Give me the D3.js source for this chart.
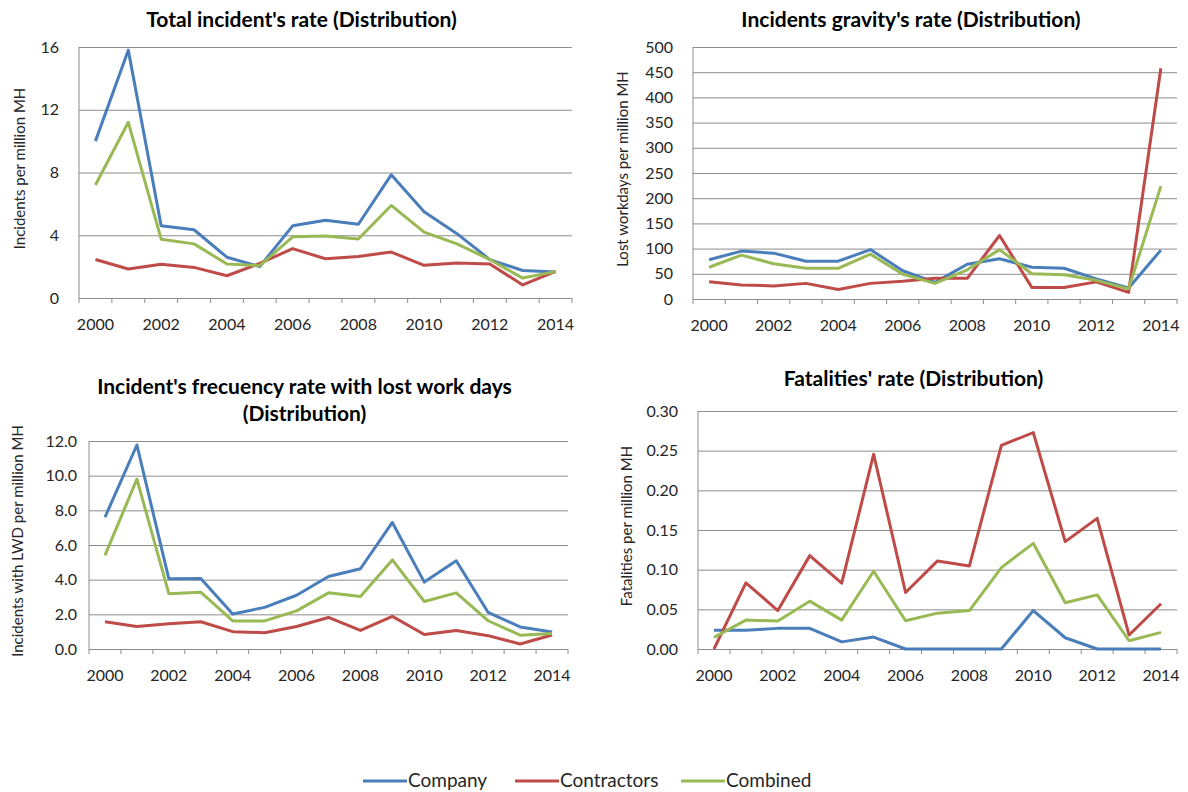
<!DOCTYPE html>
<html>
<head>
<meta charset="utf-8">
<script src="https://cdn.jsdelivr.net/npm/d3@7"></script>
<style>
  body { margin: 0; background: #fff; }
  text { font-family: Lato, "Open Sans", sans-serif; fill: #262626; }
  .grid line { stroke: #8c8c8c; stroke-width: 1; }
  .grid path { display: none; }
  .title { font-weight: bold; font-size: 21px; fill: #000; }
</style>
</head>
<body>
<svg id="chart" width="1188" height="792"></svg>
<script>
// years on the x axis
var years = [2000, 2001, 2002, 2003, 2004, 2005, 2006, 2007, 2008, 2009, 2010, 2011, 2012, 2013, 2014];
var seriesNames = ["Company", "Contractors", "Combined"];
var seriesColors = ["#4a7ebb", "#be4b48", "#98b954"];

// Total incident's rate
var totalCompany = [10.0, 15.8, 4.6, 4.35, 2.6, 2.0, 4.6, 4.95, 4.7, 7.85, 5.5, 4.1, 2.45, 1.75, 1.65];
var totalContractors = [2.45, 1.85, 2.15, 1.95, 1.42, 2.2, 3.15, 2.5, 2.65, 2.93, 2.08, 2.23, 2.17, 0.83, 1.7];
var totalCombined = [7.2, 11.2, 3.75, 3.45, 2.17, 2.06, 3.9, 3.95, 3.76, 5.9, 4.2, 3.45, 2.45, 1.27, 1.68];

// Incidents gravity's rate
var gravityCompany = [78, 95, 91, 75, 75, 98, 56, 33, 69, 80, 63, 61, 40, 22, 97];
var gravityContractors = [34, 28, 26, 31, 19, 31, 35, 41, 41, 126, 23, 23, 34, 13, 458];
var gravityCombined = [63, 87, 70, 61, 61, 89, 49, 31, 58, 98, 50, 48, 37, 20, 224];

// Incident's frecuency rate with lost work days
var freqCompany = [7.6, 11.77, 4.05, 4.07, 2.02, 2.4, 3.1, 4.18, 4.63, 7.3, 3.86, 5.09, 2.11, 1.27, 0.98];
var freqContractors = [1.57, 1.3, 1.46, 1.57, 1.0, 0.94, 1.3, 1.82, 1.07, 1.88, 0.84, 1.07, 0.77, 0.29, 0.81];
var freqCombined = [5.4, 9.8, 3.19, 3.28, 1.62, 1.62, 2.2, 3.24, 3.03, 5.14, 2.74, 3.24, 1.63, 0.8, 0.9];

// Fatalities' rate
var fatalCompany = [0.0235, 0.0235, 0.026, 0.026, 0.009, 0.015, 0, 0, 0, 0, 0.0485, 0.0142, 0, 0, 0];
var fatalContractors = [0, 0.0833, 0.0485, 0.1177, 0.083, 0.2455, 0.0712, 0.111, 0.1047, 0.2568, 0.2727, 0.1353, 0.1647, 0.0176, 0.057];
var fatalCombined = [0.0146, 0.0364, 0.0352, 0.0603, 0.0364, 0.098, 0.0356, 0.0452, 0.0485, 0.1026, 0.1332, 0.0582, 0.0682, 0.0104, 0.0209];

var panels = [
  { title: ["Total incident's rate (Distribution)"], yLabel: "Incidents per million MH",
    yMax: 16, yTicks: [0, 4, 8, 12, 16], fmt: d3.format("d"),
    data: [totalCompany, totalContractors, totalCombined],
    left: 79, right: 572, top: 47, bottom: 298, titleY: 27, labelX: 25, tickPad: 20 },
  { title: ["Incidents gravity's rate (Distribution)"], yLabel: "Lost workdays per million MH",
    yMax: 500, yTicks: d3.range(0, 501, 50), fmt: d3.format("d"),
    data: [gravityCompany, gravityContractors, gravityCombined],
    left: 693, right: 1177, top: 47, bottom: 299, titleY: 27, labelX: 628, tickPad: 20 },
  { title: ["Incident's frecuency rate with lost work days", "(Distribution)"], yLabel: "Incidents with LWD per  million MH",
    yMax: 12, yTicks: [0, 2, 4, 6, 8, 10, 12], fmt: d3.format(".1f"),
    data: [freqCompany, freqContractors, freqCombined],
    left: 89, right: 568, top: 441, bottom: 649, titleY: 394, labelX: 23, tickPad: 12 },
  { title: ["Fatalities' rate (Distribution)"], yLabel: "Fatalities per million MH",
    yMax: 0.3, yTicks: [0, 0.05, 0.1, 0.15, 0.2, 0.25, 0.3], fmt: d3.format(".2f"),
    data: [fatalCompany, fatalContractors, fatalCombined],
    left: 698, right: 1177, top: 411, bottom: 649, titleY: 386, labelX: 632, tickPad: 20 }
];

var svg = d3.select("#chart");

panels.forEach(function(p) {
  var g = svg.append("g");

  var x = d3.scaleBand().domain(years).range([p.left, p.right]).padding(0);
  var y = d3.scaleLinear().domain([0, p.yMax]).range([p.bottom, p.top]);

  // horizontal gridlines + y tick labels
  var yAxis = d3.axisLeft(y).tickValues(p.yTicks).tickFormat(p.fmt)
    .tickSize(-(p.right - p.left)).tickPadding(p.tickPad);
  g.append("g").attr("class", "grid")
    .attr("transform", "translate(" + p.left + ",0)")
    .call(yAxis)
    .call(function(s) { s.selectAll("text").style("font-size", "16px"); });

  // y axis line
  g.append("line").attr("x1", p.left).attr("x2", p.left)
    .attr("y1", p.top).attr("y2", p.bottom)
    .attr("stroke", "#8c8c8c");

  // x tick marks at category boundaries
  var bounds = years.map(function(d) { return x(d); }).concat([p.right]);
  g.selectAll(".xtick").data(bounds).enter().append("line")
    .attr("x1", function(d) { return d; }).attr("x2", function(d) { return d; })
    .attr("y1", p.bottom).attr("y2", p.bottom + 5)
    .attr("stroke", "#8c8c8c");

  // x labels every other year
  g.selectAll(".xlab").data(years.filter(function(d) { return d % 2 === 0; })).enter().append("text")
    .attr("x", function(d) { return x(d) + x.bandwidth() / 2; })
    .attr("y", p.bottom + 32)
    .attr("text-anchor", "middle")
    .style("font-size", "16px")
    .text(function(d) { return d; });

  // lines
  var line = d3.line()
    .x(function(d, i) { return x(years[i]) + x.bandwidth() / 2; })
    .y(function(d) { return y(d); });
  p.data.forEach(function(vals, k) {
    g.append("path").datum(vals)
      .attr("d", line)
      .attr("fill", "none")
      .attr("stroke", seriesColors[k])
      .attr("stroke-width", 3)
      .attr("stroke-linejoin", "round");
  });

  // title
  var cx = (p.left + p.right) / 2 - 24;
  p.title.forEach(function(t, i) {
    g.append("text").attr("class", "title")
      .attr("x", cx).attr("y", p.titleY + i * 27)
      .attr("text-anchor", "middle")
      .text(t);
  });

  // y axis label
  g.append("text")
    .attr("transform", "translate(" + p.labelX + "," + ((p.top + p.bottom) / 2 - 4) + ") rotate(-90)")
    .attr("text-anchor", "middle")
    .style("font-size", "15px")
    .text(p.yLabel);
});

// legend
var legendX = [363, 515, 681];
var legend = svg.append("g");
seriesNames.forEach(function(name, k) {
  legend.append("line")
    .attr("x1", legendX[k]).attr("x2", legendX[k] + 44)
    .attr("y1", 781).attr("y2", 781)
    .attr("stroke", seriesColors[k]).attr("stroke-width", 3);
  legend.append("text")
    .attr("x", legendX[k] + 45).attr("y", 787)
    .style("font-size", "19px")
    .text(name);
});
</script>
</body>
</html>
